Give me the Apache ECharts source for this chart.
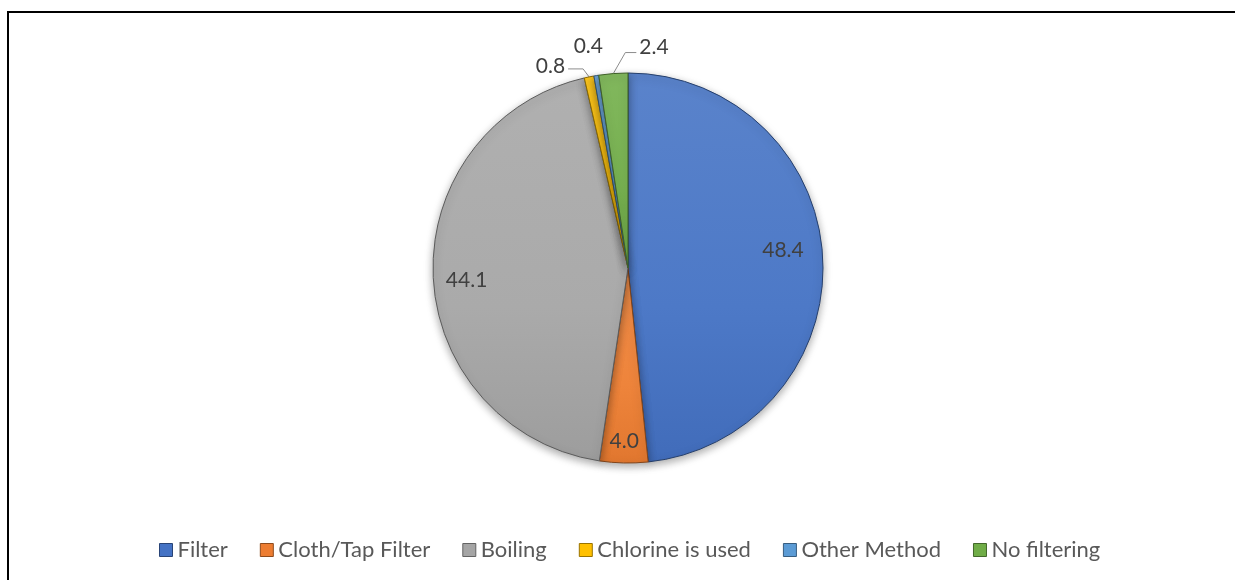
<!DOCTYPE html>
<html>
<head>
<meta charset="utf-8">
<script src="https://cdn.jsdelivr.net/npm/echarts@6/dist/echarts.min.js"></script>
<style>
  html, body { margin: 0; padding: 0; background: #ffffff; }
  #wrap { position: relative; width: 1235px; height: 580px; overflow: hidden; }
  #frame { position: absolute; left: 7px; top: 11px; width: 1400px; height: 800px;
           border-top: 2px solid #000; border-left: 2px solid #000; box-sizing: border-box; }
  #chart { position: absolute; left: 0; top: 0; width: 1235px; height: 580px; }
</style>
</head>
<body>
<div id="wrap">
  <div id="frame"></div>
  <div id="chart"></div>
</div>
<script>
// Water treatment method shares (%)
const categories = ['Filter', 'Cloth/Tap Filter', 'Boiling', 'Chlorine is used', 'Other Method', 'No filtering'];
const shares = [48.4, 4.0, 44.1, 0.8, 0.4, 2.4];
const palette = ['#4472C4', '#ED7D31', '#A5A5A5', '#FFC000', '#5B9BD5', '#70AD47'];

// Layout of the pie
const CX = 628, CY = 268, R = 195;
const FONT = 'Lato, "Liberation Sans", sans-serif';

// Where each label sits: inside labels at a fraction of the radius
// (plus a small turn in degrees), small slices get an outside label
// with a short leader line.
const insideLabel = {
  'Filter':           { frac: 0.80, turn: -3.5 },
  'Cloth/Tap Filter': { frac: 0.89, turn: 0 },
  'Boiling':          { frac: 0.83, turn: -2 }
};
const outsideLabel = {
  'Chlorine is used': { bend: [-6, -8], end: [-21, -8], text: [-24, -11], align: 'right', line: true },
  'Other Method':     { bend: null, end: null, text: [-8, -29], align: 'center', line: false },
  'No filtering':     { bend: [12, -21], end: [23, -21], text: [26, -26], align: 'left', line: true }
};

function mix(hex, target, t) {
  const a = echarts.color.parse(hex), b = echarts.color.parse(target);
  const c = [0, 1, 2].map(i => Math.round(a[i] + (b[i] - a[i]) * t));
  return 'rgb(' + c.join(',') + ')';
}

function shaded(hex) {
  return new echarts.graphic.LinearGradient(0, 0, 0, 1, [
    { offset: 0, color: mix(hex, '#ffffff', 0.12) },
    { offset: 0.6, color: mix(hex, '#ffffff', 0.05) },
    { offset: 1, color: mix(hex, '#000000', 0.05) }
  ]);
}

const seriesData = categories.map((name, i) => {
  const outside = outsideLabel[name];
  return {
    name: name,
    value: shares[i],
    itemStyle: { color: shaded(palette[i]), borderColor: mix(palette[i], '#000000', 0.45) },
    label: { position: outside ? 'outside' : 'inside' },
    labelLine: { show: outside ? outside.line : false }
  };
});

const total = shares.reduce((a, b) => a + b, 0);
function midAngle(index) {
  let sum = 0;
  for (let i = 0; i < index; i++) sum += shares[i];
  return (sum + shares[index] / 2) / total * Math.PI * 2;
}

const chart = echarts.init(document.getElementById('chart'), null, { renderer: 'canvas' });

chart.setOption({
  animation: false,
  color: palette,
  legend: {
    left: 154,
    top: 534,
    itemWidth: 13,
    itemHeight: 13,
    itemGap: 32,
    icon: 'rect',
    textStyle: { fontFamily: FONT, fontSize: 22, color: '#595959' },
    data: categories.map((name, i) => ({
      name: name,
      itemStyle: { color: palette[i], borderColor: mix(palette[i], '#000000', 0.4), borderWidth: 1 }
    }))
  },
  series: [{
    type: 'pie',
    center: [CX, CY],
    radius: R,
    startAngle: 90,
    clockwise: true,
    avoidLabelOverlap: false,
    itemStyle: {
      borderWidth: 1,
      shadowBlur: 8,
      shadowOffsetY: 3,
      shadowColor: 'rgba(0,0,0,0.35)'
    },
    label: {
      fontFamily: FONT,
      fontSize: 21,
      color: '#404040',
      formatter: p => p.value.toFixed(1)
    },
    labelLine: {
      length: 10,
      length2: 10,
      lineStyle: { color: '#8c8c8c', width: 1 }
    },
    emphasis: { disabled: true },
    data: seriesData,
    labelLayout: function (params) {
      const name = categories[params.dataIndex];
      const inside = insideLabel[name];
      if (inside) {
        const a = midAngle(params.dataIndex) + inside.turn * Math.PI / 180;
        const rr = inside.frac * R;
        return {
          x: CX + rr * Math.sin(a),
          y: CY - rr * Math.cos(a),
          align: 'center',
          verticalAlign: 'middle',
          hideOverlap: false
        };
      }
      const spec = outsideLabel[name];
      // anchor on the rim at the slice's mid angle
      const mid = midAngle(params.dataIndex);
      const ax = CX + R * Math.sin(mid), ay = CY - R * Math.cos(mid);
      const out = {
        x: ax + spec.text[0],
        y: ay + spec.text[1],
        align: spec.align,
        verticalAlign: 'middle',
        hideOverlap: false
      };
      if (spec.line) {
        out.labelLinePoints = [
          [ax, ay],
          [ax + spec.bend[0], ay + spec.bend[1]],
          [ax + spec.end[0], ay + spec.end[1]]
        ];
      }
      return out;
    }
  }]
});
</script>
</body>
</html>
